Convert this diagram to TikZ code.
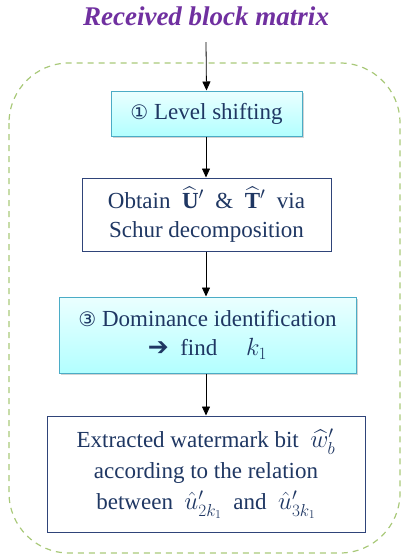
\documentclass[tikz,border=0pt]{standalone}
\usepackage{fontspec}
\setmainfont{Liberation Serif}
\newfontfamily\symfont{DejaVu Sans}
\usepackage{amsmath,amssymb}
\usetikzlibrary{shadows,arrows.meta}
\definecolor{navy}{HTML}{1F3763}
\definecolor{boxline}{HTML}{2F4479}
\definecolor{cyanline}{HTML}{4BACC6}
\definecolor{ttl}{HTML}{7030A0}
\definecolor{dashg}{HTML}{A9C97A}
\begin{document}
\begin{tikzpicture}[x=1pt,y=-1pt,
  base/.style={rectangle,align=center,text=navy,font=\fontsize{23}{29}\selectfont,inner sep=0pt},
  bluebox/.style={base,draw=cyanline,line width=1pt,top color=cyan!8,bottom color=cyan!30!white,drop shadow={opacity=0.35,shadow xshift=1.5pt,shadow yshift=-2pt}},
  whitebox/.style={base,draw=boxline,line width=1pt,fill=white},
  conn/.style={-{Triangle[length=9pt,width=8pt]},line width=0.8pt,black}]
\useasboundingbox (0,0) rectangle (404,558);
\draw[dashg,line width=1.2pt,dash pattern=on 6pt off 5pt,rounded corners=60pt] (9,63) rectangle (400,553);
\node[font=\fontsize{27}{30}\selectfont\bfseries\itshape,text=ttl] (title) at (206,16) {Received block matrix};
\node[bluebox,minimum width=191pt,minimum height=45pt] (b1) at (206.5,113.5) {{\symfont\fontsize{20}{20}\selectfont ①} Level shifting};
\node[whitebox,minimum width=249pt,minimum height=73pt] (b2) at (206.5,214.5) {Obtain \ $\widehat{\mathbf{U}}'$ \ \& \ $\widehat{\mathbf{T}}'$ \ via\\Schur decomposition};
\node[bluebox,minimum width=297pt,minimum height=76pt] (b3) at (207.5,335) {{\symfont\fontsize{20}{20}\selectfont ③} Dominance identification\\{\symfont\fontsize{25}{20}\selectfont\bfseries ➔} \ find \quad $k_1$};
\node[whitebox,minimum width=318pt,minimum height=116pt,font=\fontsize{23}{31}\selectfont] (b4) at (206,474) {Extracted watermark bit \ $\widehat{w}'_b$\\according to the relation\\between \ $\hat{u}'_{2k_1}$ \ and \ $\hat{u}'_{3k_1}$};
\coordinate (t0) at (206,42);
\draw[conn] (t0) -- (b1.north);
\draw[conn] (b1.south -| 206,0) -- (b2.north -| 206,0);
\draw[conn] (b2.south -| 206,0) -- (b3.north -| 206,0);
\draw[conn] (b3.south -| 206,0) -- (b4.north -| 206,0);
\end{tikzpicture}
\end{document}
